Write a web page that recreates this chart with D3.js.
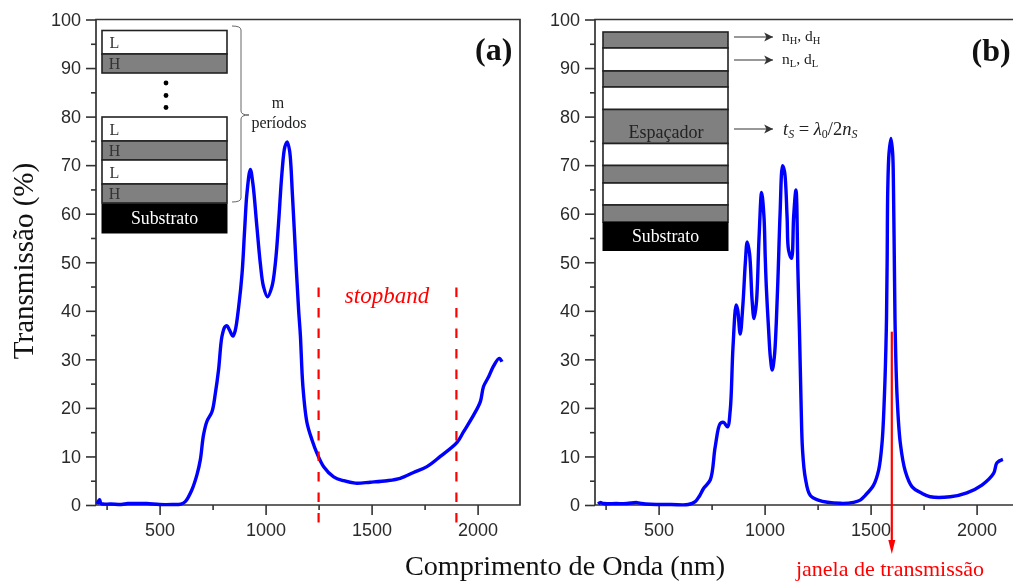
<!DOCTYPE html>
<html>
<head>
<meta charset="utf-8">
<script src="https://cdn.jsdelivr.net/npm/d3@7"></script>
<style>
  html, body { margin: 0; padding: 0; background: #fff; overflow: hidden; }
  svg { display: block; filter: blur(0.45px); }
  .serif { font-family: "Liberation Serif", serif; }
  .sans { font-family: "Liberation Sans", sans-serif; }
</style>
</head>
<body>
<div class="canvas"></div>
<script>
// values
var wavelengthA = [205,217,222,232,270,320,350,400,440,500,560,600,621,652,676,692,707,723,747,763,778,794,808,818,830,846,857,873,889,901,912,928,940,959,975,990,1009,1030,1046,1061,1077,1091,1102,1113,1127,1145,1156,1164,1176,1195,1219,1242,1274,1321,1368,1423,1494,1573,1635,1698,1761,1824,1903,1934,1981,2013,2028,2052,2075,2102,2115];
var transA =     [0.2,1.1,0.4,0.2,0.2,0.1,0.3,0.3,0.3,0.1,0.1,0.2,0.7,3.1,6.2,9.3,14.4,17.2,19.2,23,27.8,34.7,36.7,36.9,36,34.8,36,40.8,47.7,56.6,64.2,69.1,66.2,57.3,49.8,45,42.9,45,49.8,58,68.3,73.8,74.8,73,63.5,48.4,40,35,24.4,17,13.4,10.7,7.9,5.8,5,4.5,4.7,5,5.5,6.7,7.9,10,12.9,15.1,18.5,21.3,24.4,26.4,28.6,30.2,29.5];

var wavelengthB = [215,225,240,300,350,398,420,461,560,640,673,692,712,744,767,791,807,825,838,851,866,873,885,898,909,918,929,941,950,961,974,986,997,1003,1008,1019,1027,1036,1046,1055,1064,1073,1085,1094,1106,1113,1127,1137,1148,1157,1165,1172,1179,1192,1215,1253,1357,1420,1451,1475,1514,1538,1554,1565,1574,1578,1581,1587,1596,1604,1608,1612,1616,1625,1640,1664,1695,1742,1781,1876,1954,2025,2080,2096,2124];
var transB =     [0.2,0.5,0.3,0.3,0.3,0.5,0.3,0.15,0.1,0.1,0.7,1.8,3.4,5.2,12,16.8,17,16.1,19.6,32.6,41.2,40.2,35.2,41.5,49.8,54.2,51.8,42.2,38.4,41.5,55.3,64.4,59.4,51,45,36,30.5,27.8,30.5,37.4,48,60,69.9,68.7,59.4,52.5,50.8,59.4,64.9,48.4,34.7,21,11.3,5.6,2,1,0.35,0.55,1,2,4.1,7.2,12.8,22.3,36,50,65,72.5,75.5,72.5,65,50,36,22.3,12.8,6.9,3.8,2.4,1.7,1.7,2.5,4.1,6.5,8.7,9.4];

var yTicks = [0,10,20,30,40,50,60,70,80,90,100];
var yMinor = [5,15,25,35,45,55,65,75,85,95];
var xTicks = [500,1000,1500,2000];
var xMinor = [250,750,1250,1750];

var stopband = [1250,1900];
var windowCentre = 1600;

// stacks drawn inside the plots
var layersA = [
  {top: 30.5, bottom: 54, kind: "L"}, {top: 54, bottom: 73, kind: "H"},
  {top: 117, bottom: 141, kind: "L"}, {top: 141, bottom: 160, kind: "H"},
  {top: 160, bottom: 184, kind: "L"}, {top: 184, bottom: 203, kind: "H"}
];
var layersB = [
  {top: 32, bottom: 48, kind: "H"}, {top: 48, bottom: 71, kind: "L"},
  {top: 71, bottom: 87, kind: "H"}, {top: 87, bottom: 109.5, kind: "L"},
  {top: 109.5, bottom: 143.5, kind: "H"}, {top: 143.5, bottom: 165.5, kind: "L"},
  {top: 165.5, bottom: 183, kind: "H"}, {top: 183, bottom: 205, kind: "L"},
  {top: 205, bottom: 222, kind: "H"}
];

var width = 1013, height = 581;
var svg = d3.select(".canvas").append("svg")
    .attr("width", width)
    .attr("height", height);

svg.append("defs").append("marker")
    .attr("id", "thinhead")
    .attr("viewBox", "0 0 10 10")
    .attr("refX", 9).attr("refY", 5)
    .attr("markerUnits", "userSpaceOnUse")
    .attr("markerWidth", 11).attr("markerHeight", 11)
    .attr("orient", "auto")
  .append("path")
    .attr("d", "M1,1 L9,5 L1,9 L3,5 Z")
    .attr("fill", "#333");

var y = d3.scaleLinear().domain([0, 100]).range([505, 19.5]);

function drawPanel(left, wavelength, trans) {
  var x = d3.scaleLinear().domain([200, 2200]).range([left, left + 424]);

  // frame
  svg.append("path")
      .attr("d", d3.line()([[x(200), y(0)], [x(200), y(100)], [x(2200), y(100)], [x(2200), y(0)], [x(200), y(0)]]))
      .attr("fill", "none")
      .attr("stroke", "#333")
      .attr("stroke-width", 1.7);

  // axes
  var gx = svg.append("g")
      .attr("transform", "translate(0," + y(0) + ")")
      .call(d3.axisBottom(x).tickValues(xTicks).tickSize(10).tickPadding(8).tickFormat(d3.format("d")));
  var gxMinor = svg.append("g")
      .attr("transform", "translate(0," + y(0) + ")")
      .call(d3.axisBottom(x).tickValues(xMinor).tickSize(5).tickFormat(""));
  var gy = svg.append("g")
      .attr("transform", "translate(" + x(200) + ",0)")
      .call(d3.axisLeft(y).tickValues(yTicks).tickSize(10).tickPadding(5));
  var gyMinor = svg.append("g")
      .attr("transform", "translate(" + x(200) + ",0)")
      .call(d3.axisLeft(y).tickValues(yMinor).tickSize(5).tickFormat(""));

  [gx, gxMinor, gy, gyMinor].forEach(function(g) {
    g.select(".domain").remove();
    g.selectAll("line").attr("stroke", "#333").attr("stroke-width", 1.6);
    g.selectAll("text")
        .attr("class", "sans")
        .attr("fill", "#2a2a2a")
        .style("font-size", "18px");
  });

  // curve
  var points = wavelength.map(function(d, i) { return [d, trans[i]]; });
  svg.append("path")
      .attr("d", d3.line()
          .x(function(d) { return x(d[0]); })
          .y(function(d) { return y(d[1]); })
          .curve(d3.curveCatmullRom.alpha(0.5))(points))
      .attr("fill", "none")
      .attr("stroke", "#0000ff")
      .attr("stroke-width", 3.4)
      .attr("stroke-linejoin", "round");

  return x;
}

function drawStack(layers, xa, xb, subTop, subBottom) {
  svg.append("g").selectAll("rect")
    .data(layers)
    .enter()
    .append("rect")
      .attr("x", xa)
      .attr("y", function(d) { return d.top; })
      .attr("width", xb - xa)
      .attr("height", function(d) { return d.bottom - d.top; })
      .attr("fill", function(d) { return d.kind == "H" ? "#808080" : "#fff"; })
      .attr("stroke", "#222")
      .attr("stroke-width", 1.6);

  svg.append("rect")
      .attr("x", xa - 0.5).attr("y", subTop)
      .attr("width", xb - xa + 1).attr("height", subBottom - subTop)
      .attr("fill", "#000");

  svg.append("text")
      .attr("class", "serif")
      .attr("x", (xa + xb) / 2).attr("y", subBottom - 9.5)
      .attr("text-anchor", "middle")
      .attr("fill", "#fff")
      .style("font-size", "17.8px")
      .text("Substrato");
}

function label(txt, px, py, size, anchor, color, cls) {
  return svg.append("text")
      .attr("class", cls || "serif")
      .attr("x", px).attr("y", py)
      .attr("text-anchor", anchor || "start")
      .attr("fill", color || "#222")
      .style("font-size", size + "px")
      .text(txt);
}

var xa = drawPanel(96, wavelengthA, transA);
var xb = drawPanel(595, wavelengthB, transB);

// stopband marks
svg.selectAll("line.stop")
  .data(stopband)
  .enter()
  .append("line")
    .attr("class", "stop")
    .attr("x1", function(d) { return xa(d); })
    .attr("x2", function(d) { return xa(d); })
    .attr("y1", y(44.8))
    .attr("y2", y(-3.7))
    .attr("stroke", "#ff0000")
    .attr("stroke-width", 2.2)
    .attr("stroke-dasharray", "9.5,11");
label("stopband", 387, 303, 23, "middle", "#ff0000").style("font-style", "italic");

// transmission window arrow
svg.append("line")
    .attr("x1", xb(windowCentre)).attr("x2", xb(windowCentre))
    .attr("y1", y(35.7)).attr("y2", 541)
    .attr("stroke", "#ff0000")
    .attr("stroke-width", 2.2);
svg.append("path")
    .attr("d", d3.line()([[xb(windowCentre) - 3.5, 540], [xb(windowCentre) + 3.5, 540], [xb(windowCentre), 554]]))
    .attr("fill", "#ff0000");
label("janela de transmissão", 890, 576, 22, "middle", "#ff0000");

// panel (a) stack
drawStack(layersA, 102, 227, 203.5, 233.5);
layersA.forEach(function(d) {
  label(d.kind, 114.5, (d.top + d.bottom) / 2 + 5.5, 16, "middle", "#333");
});
[83, 95.5, 107.5].forEach(function(py) {
  svg.append("circle").attr("cx", 166).attr("cy", py).attr("r", 2.4).attr("fill", "#000");
});
svg.append("path")
    .attr("d", "M232,26 Q241,26 241,30 L241,111 Q241,115 249,115 Q241,115 241,119 L241,198 Q241,202 232,202")
    .attr("fill", "none")
    .attr("stroke", "#666")
    .attr("stroke-width", 1);
label("m", 278, 108, 16, "middle");
label("períodos", 279, 128, 16, "middle");

// panel (b) stack
drawStack(layersB, 603, 728, 222, 251);
label("Espaçador", 666, 137.5, 18, "middle", "#222");

[37, 60, 129].forEach(function(py) {
  svg.append("line")
      .attr("x1", 734).attr("x2", 773)
      .attr("y1", py).attr("y2", py)
      .attr("stroke", "#333")
      .attr("stroke-width", 1.1)
      .attr("marker-end", "url(#thinhead)");
});

function indexed(px, py, parts) {
  var t = label("", px, py, 15.5, "start", "#222");
  parts.forEach(function(p) {
    t.append("tspan")
        .attr("dy", p.sub ? 3 : (p.back ? -3 : 0))
        .style("font-size", p.sub ? "10.5px" : "15.5px")
        .text(p.t);
  });
}
indexed(782, 41, [{t: "n"}, {t: "H", sub: 1}, {t: ", d", back: 1}, {t: "H", sub: 1}]);
indexed(782, 64, [{t: "n"}, {t: "L", sub: 1}, {t: ", d", back: 1}, {t: "L", sub: 1}]);

var ts = label("", 783, 135, 18.5, "start", "#222").style("font-style", "italic");
ts.append("tspan").text("t");
ts.append("tspan").attr("dy", 3).style("font-size", "12px").text("S");
ts.append("tspan").attr("dy", -3).style("font-style", "normal").text(" = ");
ts.append("tspan").text("λ");
ts.append("tspan").attr("dy", 3).style("font-size", "12px").style("font-style", "normal").text("0");
ts.append("tspan").attr("dy", -3).style("font-style", "normal").text("/2");
ts.append("tspan").text("n");
ts.append("tspan").attr("dy", 3).style("font-size", "12px").text("S");

// panel letters and axis titles
label("(a)", 475, 60, 32, "start", "#111").style("font-weight", "bold");
label("(b)", 971.5, 61, 32, "start", "#111").style("font-weight", "bold");

label("Comprimento de Onda (nm)", 565, 575, 28.2, "middle", "#111");
svg.append("text")
    .attr("class", "serif")
    .attr("transform", "translate(33,261)rotate(-90)")
    .attr("text-anchor", "middle")
    .attr("fill", "#111")
    .style("font-size", "29px")
    .text("Transmissão (%)");
</script>
</body>
</html>
